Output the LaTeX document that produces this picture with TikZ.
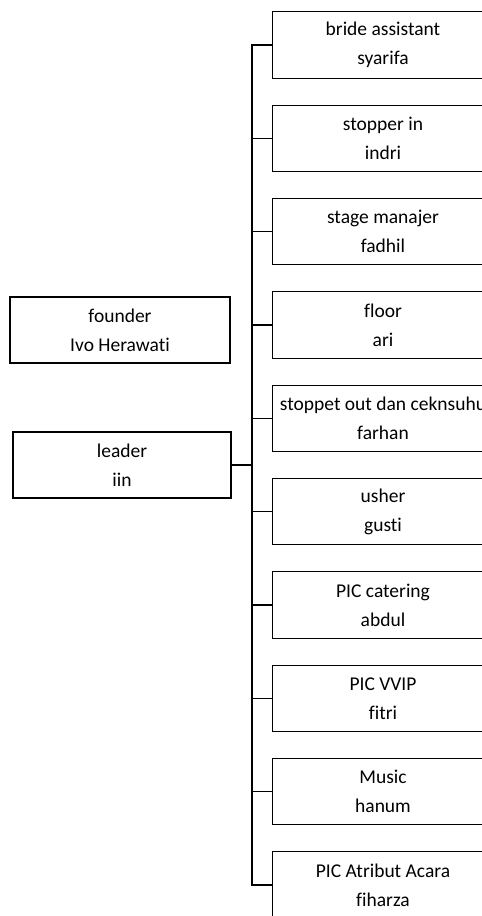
\documentclass[tikz,border=0pt]{standalone}
\usepackage{fontspec}
\setmainfont{Carlito}[Ligatures={NoCommon}]
\begin{document}
\begin{tikzpicture}[x=1pt,y=-1pt,
  txt/.style={minimum width=220pt, minimum height=66pt,
    inner sep=0pt, align=center, font=\fontsize{19.5}{29}\selectfont},
  box/.style={txt, draw=black, line width=1.2pt},
  conn/.style={draw=black, line width=1.2pt}]
\useasboundingbox (0,0) rectangle (482,916);
\clip (0,0) rectangle (482,916);
\node[box] (founder) at (120,330) {founder\\Ivo Herawati};
\node[box, minimum width=218pt] (leader) at (122,465) {leader\\iin};
\foreach \i/\t/\n in {1/bride assistant/syarifa, 2/stopper in/indri, 3/stage manajer/fadhil,
  4/floor/ari, 5/stoppet out dan ceknsuhu/farhan, 6/usher/gusti, 7/PIC catering/abdul,
  8/PIC VVIP/fitri, 9/Music/hanum, 10/PIC Atribut Acara/fiharza}
{
  \node[txt] (b\i) at (383, {45+93.33*(\i-1)}) {\t\\\n};
  \draw[conn] (b\i.north west) rectangle ([xshift=40pt]b\i.south east);
}
\coordinate (trunk) at (252,0);
\draw[conn] (b1.west) -- (b1.west -| trunk) -- (b10.west -| trunk) -- (b10.west);
\foreach \i in {2,...,9}
  \draw[conn] (b\i.west) -- (b\i.west -| trunk);
\draw[conn] (leader.east) -- (leader.east -| trunk);
\end{tikzpicture}
\end{document}
